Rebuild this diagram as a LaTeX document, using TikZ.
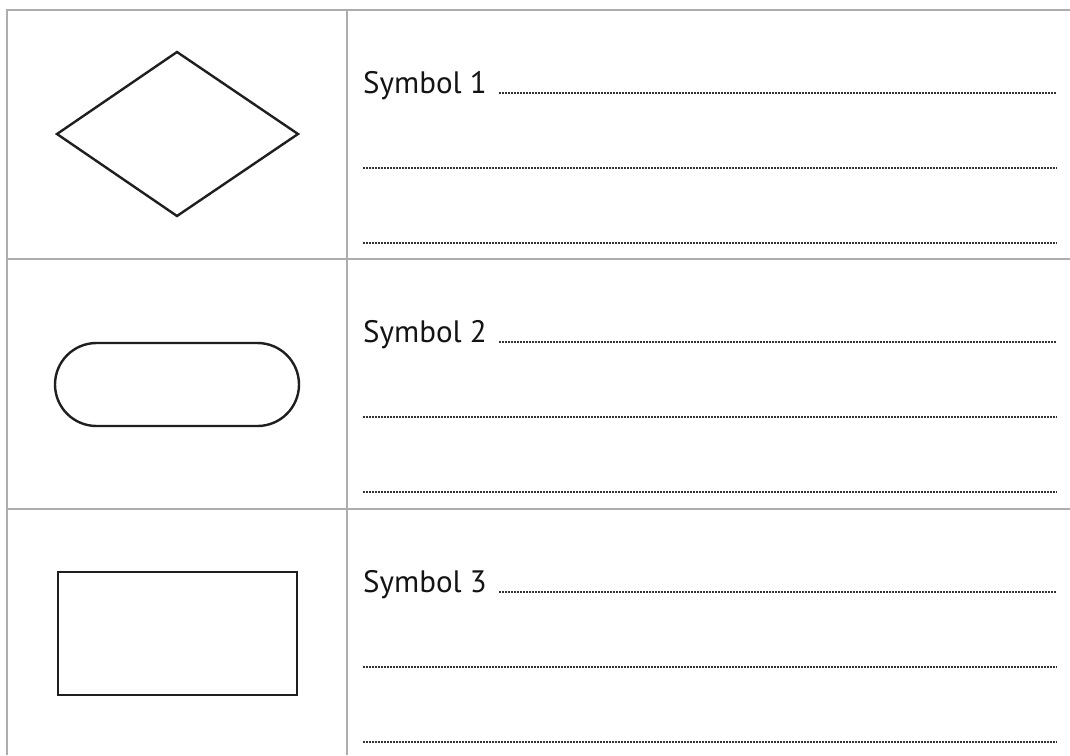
\documentclass[tikz,border=0pt]{standalone}
\usepackage{fontspec}
\setmainfont{PT Sans}
\begin{document}
\begin{tikzpicture}[x=1pt,y=-1pt,
  grid/.style={draw=black!32, line width=2.8pt},
  shapeline/.style={draw=black!88, line width=2.4pt, line join=miter},
  dotline/.style={draw=black!80, line width=1.7pt, dash pattern=on 1.5pt off 1.5pt},
  label/.style={anchor=base west, inner sep=0pt, font=\fontsize{31}{37}\selectfont, text=black!92}]
\useasboundingbox[fill=white] (0,0) rectangle (1070,755);
% grid
\draw[grid] (7,755) -- (7,10) -- (1070,10);
\draw[grid] (347,10) -- (347,755);
\draw[grid] (7,259) -- (1070,259);
\draw[grid] (7,509) -- (1070,509);
% shapes
\draw[shapeline] (177,52) -- (298,134) -- (177,216) -- (57,134) -- cycle;
\draw[shapeline, rounded corners=41.5pt] (55,343) rectangle (299,426);
\draw[shapeline] (58,572) rectangle (297,695);
% texts and lines
\foreach \n/\y in {1/10, 2/259, 3/509}{
  \node[label] (s\n) at (363,\y+83) {Symbol \n};
  \coordinate (e\n) at (1057,\y+83);
  \draw[dotline] ([xshift=12pt]s\n.base east) -- (e\n);
  \coordinate (a\n) at (363,\y+158);
  \coordinate (b\n) at (1057,\y+158);
  \draw[dotline] (a\n) -- (b\n);
  \coordinate (c\n) at (363,\y+233);
  \coordinate (d\n) at (1057,\y+233);
  \draw[dotline] (c\n) -- (d\n);
}
\end{tikzpicture}
\end{document}
